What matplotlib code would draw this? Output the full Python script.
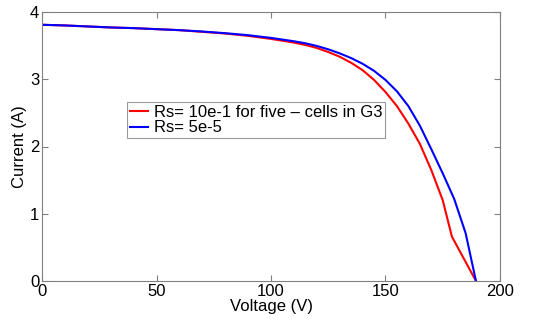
import matplotlib
matplotlib.use("Agg")
import matplotlib.pyplot as plt

plt.rcParams['font.family'] = ['Liberation Sans', 'DejaVu Sans']

# I-V curve, Rs = 10e-1 for five cells in G3 (red)
v_red = [0, 10, 20, 30, 40, 50, 60, 70, 80, 90, 100, 110, 115, 120, 125, 130, 135,
         140, 145, 150, 155, 160, 165, 170, 175, 179, 189.5]
i_red = [3.81, 3.80, 3.785, 3.77, 3.76, 3.745, 3.73, 3.705, 3.68, 3.645, 3.60,
         3.545, 3.51, 3.465, 3.405, 3.335, 3.245, 3.135, 2.99, 2.81, 2.60, 2.34,
         2.04, 1.65, 1.20, 0.66, 0.0]

# I-V curve, Rs = 5e-5 (blue)
v_blue = [0, 10, 20, 30, 40, 50, 60, 70, 80, 90, 100, 110, 115, 120, 125, 130, 135,
          140, 145, 150, 155, 160, 165, 170, 175, 180, 185, 189.5]
i_blue = [3.81, 3.80, 3.785, 3.77, 3.76, 3.745, 3.73, 3.71, 3.685, 3.655, 3.615,
          3.565, 3.535, 3.495, 3.445, 3.385, 3.315, 3.23, 3.125, 2.99, 2.82, 2.60,
          2.31, 1.96, 1.60, 1.22, 0.71, 0.0]

labels = ["Rs= 10e-1 for five \u2013 cells in G3", "Rs= 5e-5"]

fig = plt.figure(figsize=(5.53, 3.22), dpi=100)
ax = fig.add_axes([42 / 553, 1 - 281 / 322, 458 / 553, 269 / 322])

ax.plot(v_red, i_red, color='#ff0000', lw=1.5, label=labels[0])
ax.plot(v_blue, i_blue, color='#0000ff', lw=1.5, label=labels[1])

ax.set_xlim(0, 200)
ax.set_ylim(0, 4)
ax.set_xticks([0, 50, 100, 150, 200])
ax.set_yticks([0, 1, 2, 3, 4])
ax.tick_params(direction='in', top=True, right=True, labelsize=12,
               length=4, color='#808080', pad=2)
for s in ax.spines.values():
    s.set_color('#808080')
    s.set_linewidth(0.8)

ax.set_xlabel("Voltage (V)", fontsize=12, labelpad=0)
ax.set_ylabel("Current (A)", fontsize=12, labelpad=2)

leg = ax.legend(loc='upper left', bbox_to_anchor=(0.186, 0.665), borderaxespad=0,
                fontsize=12, handlelength=1.1, handletextpad=0.35,
                labelspacing=0.05, borderpad=0.15, fancybox=False, framealpha=1)
leg.get_frame().set_edgecolor('#999999')
leg.get_frame().set_linewidth(0.8)

fig.savefig("out.png", dpi=100)
